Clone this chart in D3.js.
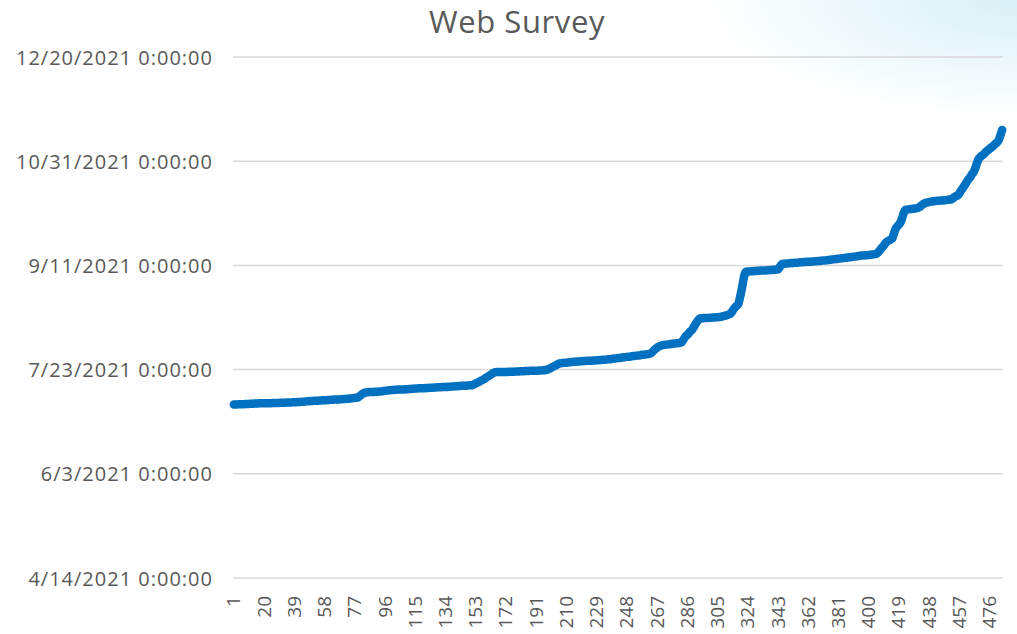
<!DOCTYPE html>
<html lang="en">
<head>
    <meta charset="UTF-8">
    <title>Web Survey</title>
    <script src="https://d3js.org/d3.v7.min.js"></script>
</head>
<body style="margin:0">
<style>
    svg {
        font-family: "Open Sans", sans-serif;
    }
    .grid line {
        stroke: #d9d9d9;
        stroke-width: 1.5;
    }
    .tick-label {
        fill: #595959;
        font-size: 19px;
    }
</style>

<div id="my_dataviz"></div>

<script>
    // response time of each entry, as day of year 2021 (1 = Jan 1)
    var responseDays = [
        187.3,187.3,187.3,187.4,187.4,187.4,187.4,187.5,187.5,187.5,187.6,187.6,187.6,187.7,187.7,187.7,187.8,187.8,187.8,187.8,
        187.9,187.9,187.9,187.9,188.0,188.0,188.0,188.0,188.0,188.1,188.1,188.1,188.1,188.2,188.2,188.2,188.2,188.3,188.3,188.3,
        188.4,188.4,188.5,188.6,188.6,188.7,188.8,188.8,188.9,188.9,189.0,189.0,189.1,189.1,189.2,189.2,189.3,189.3,189.3,189.4,
        189.4,189.5,189.5,189.6,189.6,189.7,189.7,189.8,189.8,189.9,189.9,190.0,190.0,190.1,190.2,190.3,190.4,190.5,
        190.7,191.2,191.8,192.4,192.8,193.0,193.1,
        193.2,193.2,193.3,193.3,193.4,193.4,193.5,193.5,193.6,193.7,193.8,193.9,194.0,194.1,
        194.2,194.2,194.3,194.3,194.4,194.4,194.5,194.5,194.5,194.6,194.6,194.7,194.7,194.8,194.8,194.9,194.9,195.0,195.0,195.0,195.1,
        195.1,195.2,195.2,195.3,195.3,195.3,195.4,195.4,195.5,195.5,195.5,195.6,195.6,195.7,195.7,195.8,195.8,195.9,195.9,196.0,
        196.0,196.1,196.1,196.2,196.2,196.3,196.3,196.4,196.5,196.5,196.6,
        196.9,197.3,197.7,198.1,198.5,198.9,199.3,199.8,200.3,200.8,201.3,201.8,202.3,202.7,
        202.8,202.8,202.8,202.8,202.9,202.9,202.9,202.9,203.0,203.0,203.0,203.0,203.1,203.1,203.1,203.2,203.2,203.2,203.3,203.3,
        203.3,203.4,203.4,203.4,203.5,203.5,203.5,203.6,203.6,203.7,203.7,203.8,
        204.0,204.3,204.7,205.1,205.5,205.9,206.3,206.7,207.0,
        207.1,207.2,207.3,207.3,207.4,207.5,207.6,207.7,207.8,207.8,207.9,207.9,208.0,208.0,208.1,208.1,208.2,208.2,208.3,208.3,
        208.4,208.4,208.5,208.5,208.6,208.6,208.7,208.7,208.8,208.9,
        209.0,209.0,209.2,209.3,209.3,209.5,209.6,209.6,209.8,209.9,209.9,210.1,210.2,210.2,210.4,210.5,210.5,210.7,210.8,210.8,
        211.0,211.1,211.1,211.3,211.4,211.5,
        211.8,212.4,213.2,213.9,214.5,215.0,215.4,215.6,215.8,
        215.9,216.0,216.1,216.2,216.3,216.4,216.5,216.6,216.7,216.8,216.9,
        217.6,218.8,220.0,220.6,221.5,222.4,223.0,224.2,225.6,226.8,227.8,228.6,
        228.7,228.7,228.8,228.8,228.8,228.9,228.9,229.0,229.0,229.1,229.1,229.2,229.3,229.5,229.7,229.9,230.2,230.4,230.7,
        231.6,232.8,233.8,234.6,235.2,238.0,241.5,245.5,249.5,251.0,
        251.1,251.1,251.2,251.2,251.3,251.3,251.4,251.4,251.5,251.5,251.6,251.6,251.7,251.7,251.8,251.8,251.9,251.9,252.0,252.1,
        253.0,254.2,254.7,
        254.8,254.9,254.9,255.0,255.1,255.1,255.2,255.3,255.3,255.4,255.5,255.5,255.6,255.6,255.7,255.7,255.8,255.8,255.9,256.0,
        256.0,256.1,256.1,256.2,256.3,256.3,256.4,256.5,256.6,256.7,256.8,256.9,257.0,257.1,257.2,257.3,257.4,257.5,257.6,257.7,
        257.8,257.9,258.0,258.1,258.2,258.3,258.4,258.6,258.7,
        258.8,258.8,258.9,258.9,259.0,259.1,259.2,259.3,259.4,259.5,
        260.2,261.2,262.2,263.0,264.0,265.0,265.6,266.0,266.5,267.1,269.5,271.5,272.6,273.5,274.6,276.5,279.0,280.6,
        280.8,280.9,281.0,281.1,281.2,281.3,281.4,281.6,282.0,282.6,283.2,283.7,284.0,284.2,284.4,284.6,
        284.7,284.8,284.9,285.0,285.0,285.1,285.2,285.2,285.3,285.4,285.5,285.6,285.7,
        286.2,286.8,287.3,287.6,288.5,289.8,290.8,292.0,293.2,294.5,295.5,296.5,297.8,298.8,300.5,302.8,
        304.8,305.8,306.6,307.1,307.8,308.6,309.3,309.9,310.5,311.1,311.8,312.5,313.2,314.5,316.8,319.0
    ];

    // y axis ticks
    var yTicks = ["2021-04-14", "2021-06-03", "2021-07-23", "2021-09-11", "2021-10-31", "2021-12-20"];

    // x axis: every 19th entry gets a label
    var xLabelStep = 19;

    var title = "Web Survey";

    var W = 1017, H = 634;
    var margin = {top: 57, right: 14, bottom: 56, left: 233},
        width = W - margin.left - margin.right,
        height = H - margin.top - margin.bottom;

    var parse = d3.timeParse("%Y-%m-%d");
    var jan1 = new Date(2021, 0, 1);
    var data = responseDays.map(function (d, i) {
        return {cat: i + 1, date: jan1.getTime() + (d - 1) * 864e5};
    });

    var svgRoot = d3.select("#my_dataviz").append("svg")
        .attr("width", W)
        .attr("height", H);

    // soft background wash in the top right corner
    var defs = svgRoot.append("defs");
    var grad = defs.append("radialGradient").attr("id", "bg")
        .attr("gradientUnits", "userSpaceOnUse")
        .attr("cx", 1017).attr("cy", 0).attr("r", 260)
        .attr("gradientTransform", "translate(1017,0) scale(1.2,0.45) translate(-1017,0)");
    grad.append("stop").attr("offset", "0%").attr("stop-color", "#d8f0f6");
    grad.append("stop").attr("offset", "100%").attr("stop-color", "#ffffff");
    svgRoot.append("rect").attr("width", W).attr("height", H).attr("fill", "#fff");
    svgRoot.append("rect").attr("width", W).attr("height", H).attr("fill", "url(#bg)");

    svgRoot.append("text")
        .attr("x", 517).attr("y", 33)
        .attr("text-anchor", "middle")
        .attr("fill", "#595959")
        .style("font-size", "31px")
        .style("letter-spacing", "0.6px")
        .text(title);

    var svg = svgRoot.append("g")
        .attr("transform", "translate(" + margin.left + "," + margin.top + ")");

    var x = d3.scaleBand()
        .domain(data.map(function (d) { return d.cat; }))
        .range([0, width]);

    var tickDates = yTicks.map(parse);
    var y = d3.scaleTime()
        .domain([tickDates[0], tickDates[tickDates.length - 1]])
        .range([height, 0]);

    // grid lines
    svg.append("g").attr("class", "grid")
        .selectAll("line").data(tickDates).enter().append("line")
        .attr("x1", 0).attr("x2", width)
        .attr("y1", function (d) { return y(d); })
        .attr("y2", function (d) { return y(d); });

    // y axis labels
    var fmt = d3.timeFormat("%-m/%-d/%Y 0:00:00");
    svg.append("g")
        .call(d3.axisLeft(y).tickValues(tickDates).tickFormat(fmt).tickSize(0).tickPadding(20))
        .call(function (g) { g.select(".domain").remove(); })
        .selectAll("text")
        .attr("class", "tick-label")
        .attr("dy", "0.35em")
        .style("font-size", "20px")
        .style("letter-spacing", "1px")
        .style("font-family", "Open Sans, sans-serif");

    // x axis labels
    var xTickVals = x.domain().filter(function (d) { return (d - 1) % xLabelStep === 0; });
    svg.append("g")
        .attr("transform", "translate(0," + height + ")")
        .call(d3.axisBottom(x).tickValues(xTickVals).tickSize(0).tickPadding(0))
        .call(function (g) { g.select(".domain").remove(); })
        .selectAll("text")
        .attr("class", "tick-label")
        .style("font-family", "Open Sans, sans-serif")
        .attr("text-anchor", "end")
        .attr("transform", "rotate(-90)")
        .attr("x", -18)
        .attr("y", 0)
        .attr("dy", "0.35em");

    // line
    var line = d3.line()
        .x(function (d) { return x(d.cat) + x.bandwidth() / 2; })
        .y(function (d) { return y(d.date); })
        .curve(d3.curveMonotoneX);

    svg.append("path")
        .datum(data)
        .attr("fill", "none")
        .attr("stroke", "#0070c0")
        .attr("stroke-width", 8.5)
        .attr("stroke-linejoin", "round")
        .attr("stroke-linecap", "round")
        .attr("d", line);
</script>

</body>
</html>
